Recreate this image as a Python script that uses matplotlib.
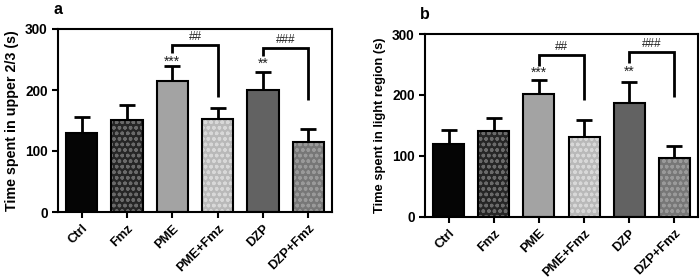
import matplotlib
matplotlib.use("Agg")
import matplotlib.pyplot as plt
import numpy as np

plt.rcParams['font.family'] = ['Liberation Sans', 'DejaVu Sans']
plt.rcParams['font.weight'] = 'bold'
plt.rcParams['hatch.linewidth'] = 1.0

categories = ["Ctrl", "Fmz", "PME", "PME+Fmz", "DZP", "DZP+Fmz"]
upper_mean = [130, 151, 214, 152, 200, 115]
upper_sem = [25, 24, 26, 19, 30, 21]
light_mean = [119, 141, 202, 131, 187, 96]
light_sem = [23, 21, 23, 27, 35, 20]

face_colors = ["#050505", "#262626", "#a3a3a3", "#b9b9b9", "#626262", "#777777"]
hatch_colors = [None, "#6a6a6a", None, "#d8d8d8", None, "#9a9a9a"]
hatches = [None, "ooo", None, "ooo", None, "ooo"]

# panel a annotations
a_stars = {2: "***", 4: "**"}
a_star_y = {2: 247, 4: 243}
a_brackets = [(2, 3, 274, 260, 189, "##"), (4, 5, 269, 256, 184, "###")]
# panel b annotations
b_stars = {2: "***", 4: "**"}
b_star_y = {2: 237, 4: 238}
b_brackets = [(2, 3, 265, 248, 192, "##"), (4, 5, 270, 252, 197, "###")]

fig = plt.figure(figsize=(7.0, 2.78), dpi=100)
ax_a = fig.add_axes([58/700, 1-212/278, (332-58)/700, (212-29)/278])
ax_b = fig.add_axes([425/700, 1-216.7/278, (698-425)/700, (216.7-34)/278])


def draw(ax, means, sems, ylabel, ylsize, stars, star_y, brackets, letter):
    x = np.arange(len(categories))
    w = 0.69
    for i in range(len(categories)):
        if hatches[i]:
            ax.bar(x[i], means[i], w, color=face_colors[i], edgecolor=hatch_colors[i],
                   hatch=hatches[i], linewidth=0, zorder=2)
        else:
            ax.bar(x[i], means[i], w, color=face_colors[i], linewidth=0, zorder=2)
        ax.bar(x[i], means[i], w, color='none', edgecolor='black', linewidth=1.5, zorder=3)
    ax.errorbar(x, means, yerr=[np.zeros(len(sems)), sems], fmt='none', ecolor='black',
                elinewidth=2, capsize=6, capthick=2, zorder=1)
    for i, s in stars.items():
        ax.text(x[i], star_y[i], s, ha='center', va='center', fontsize=10,
                fontweight='normal', color='#222222')
    for (i, j, top, lleg, rleg, lab) in brackets:
        ax.plot([x[i], x[i], x[j], x[j]], [lleg, top, top, rleg], color='black', lw=2,
                solid_capstyle='butt', solid_joinstyle='miter', zorder=4)
        ax.text((x[i]+x[j])/2, top+3, lab, ha='center', va='bottom', fontsize=8.5,
                fontweight='normal', color='#222222')
    ax.set_xlim(-0.52, 5.52)
    ax.set_ylim(0, 300)
    ax.set_yticks([0, 100, 200, 300])
    ax.set_xticks(x)
    ax.set_xticklabels(categories, rotation=45, ha='right', rotation_mode='anchor',
                       fontsize=9.3, fontweight='bold')
    ax.tick_params(axis='y', labelsize=9.8, width=1.5, length=4)
    ax.tick_params(axis='x', width=1.5, length=4)
    for lbl in ax.get_yticklabels():
        lbl.set_fontweight('bold')
    for sp in ax.spines.values():
        sp.set_linewidth(1.5)
    ax.set_ylabel(ylabel, fontsize=ylsize, fontweight='bold', labelpad=4)
    ax.text(0.0, 1.0 + 12/183, letter, transform=ax.transAxes, fontsize=11.5,
            fontweight='bold', ha='center', va='bottom')


draw(ax_a, upper_mean, upper_sem, "Time spent in upper 2/3 (s)", 10.3,
     a_stars, a_star_y, a_brackets, "a")
draw(ax_b, light_mean, light_sem, "Time spent in light region (s)", 9.3,
     b_stars, b_star_y, b_brackets, "b")

fig.savefig("out.png", dpi=100)
